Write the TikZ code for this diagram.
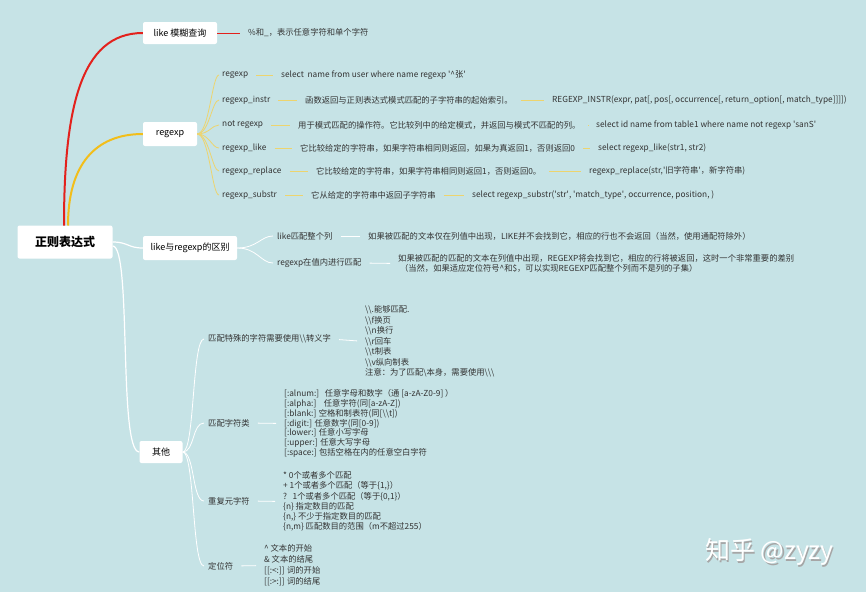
\documentclass[tikz,border=0pt]{standalone}
\usepackage{fontspec}
\setmainfont{Noto Sans CJK SC}
\definecolor{bg}{HTML}{C6E3E6}
\definecolor{redl}{HTML}{E3211C}
\definecolor{orl}{HTML}{F2BE1A}
\definecolor{yel}{HTML}{EDD46E}
\definecolor{txt}{HTML}{333333}
\newcommand{\q}{\textquotesingle}
\tikzset{
  topic/.style={fill=white, rounded corners=2pt, inner sep=0pt, text=black, font=\fontsize{9}{11}\selectfont},
  leaf/.style={anchor=west, inner sep=0pt, text=txt, font=\fontsize{8.3}{9}\selectfont},
  blk/.style={anchor=west, inner sep=0pt, text=txt, align=left},
  yline/.style={draw=yel, line width=0.8pt},
  wline/.style={draw=white, line width=0.8pt},
  link/.style={shorten <=8pt, shorten >=8pt}
}
\begin{document}
\begin{tikzpicture}[x=1pt,y=-1pt]
\fill[bg] (0,0) rectangle (866,592);
\useasboundingbox (0,0) rectangle (866,592);

% main topics
\node[topic, font=\fontsize{12}{14}\selectfont\bfseries, minimum width=95pt, minimum height=33pt] (root) at (65,242) {正则表达式};
\node[topic, minimum width=74pt, minimum height=22pt] (like) at (180,33) {like 模糊查询};
\node[topic, minimum width=54pt, minimum height=24pt] (regexp) at (170,134) {regexp};
\node[topic, minimum width=94pt, minimum height=24pt] (diff) at (190,248) {like与regexp的区别};
\node[topic, minimum width=43pt, minimum height=22pt] (other) at (161,452) {其他};

% main branches
\draw[redl, line width=2pt] (64,225.5) .. controls (64,110) and (80,33) .. (like.west);
\draw[orl, line width=2pt] (68,225.5) .. controls (68,165) and (95,134) .. (regexp.west);
\draw[wline, line width=1.2pt] (root.east) .. controls (128,242) and (128,248) .. (diff.west);
\draw[wline, line width=1.2pt] ([yshift=-4pt]root.east) .. controls (132,246) and (118,452) .. (other.west);

% like
\node[leaf] (l1) at (248,33) {\%和\_，表示任意字符和单个字符};
\draw[redl, line width=0.8pt] (like.east) -- ([xshift=-8pt]l1.west);

% regexp children
\node[leaf] (r1) at (222,75) {regexp};
\node[leaf] (r1a) at (281,75) {select\ \ name from user where name regexp \q\textasciicircum 张\q};
\node[leaf] (r2) at (222,100) {regexp\_instr};
\node[leaf] (r2a) at (305,100) {函数返回与正则表达式模式匹配的子字符串的起始索引。};
\node[leaf] (r2b) at (552,100) {REGEXP\_INSTR(expr, pat[, pos[, occurrence[, return\_option[, match\_type]]]])};
\node[leaf] (r3) at (222,125) {not regexp};
\node[leaf] (r3a) at (298,125) {用于模式匹配的操作符。它比较列中的给定模式，并返回与模式不匹配的列。};
\node[leaf] (r3b) at (596,125) {select id name from table1 where name not regexp \q sanS\q};
\node[leaf] (r4) at (222,148) {regexp\_like};
\node[leaf] (r4a) at (300,148) {它比较给定的字符串，如果字符串相同则返回，如果为真返回1，否则返回0};
\node[leaf] (r4b) at (598,148) {select regexp\_like(str1, str2)};
\node[leaf] (r5) at (222,171) {regexp\_replace};
\node[leaf] (r5a) at (316,171) {它比较给定的字符串，如果字符串相同则返回1，否则返回0。};
\node[leaf] (r5b) at (589,171) {regexp\_replace(str,\q 旧字符串\q，新字符串)};
\node[leaf] (r6) at (222,195) {regexp\_substr};
\node[leaf] (r6a) at (311,195) {它从给定的字符串中返回子字符串};
\node[leaf] (r6b) at (472,195) {select regexp\_substr(\q str\q, \q match\_type\q, occurrence, position, )};

\foreach \n in {r1,r2,r3,r4,r5,r6}
  \draw[yline] (regexp.east) .. controls +(12,0) and ([xshift=-10pt]\n.west) .. ([xshift=-3pt]\n.west);
\foreach \a/\b in {r1/r1a,r2/r2a,r2a/r2b,r3/r3a,r3a/r3b,r4/r4a,r4a/r4b,r5/r5a,r5a/r5b,r6/r6a,r6a/r6b}
  \draw[yline, link] (\a.east) -- (\b.west);

% like vs regexp
\node[leaf] (d1) at (277,236) {like匹配整个列};
\node[leaf] (d1a) at (368,236) {如果被匹配的文本仅在列值中出现，LIKE并不会找到它，相应的行也不会返回（当然，使用通配符除外）};
\node[leaf] (d2) at (277,263) {regexp在值内进行匹配};
\node[blk, font=\fontsize{8.3}{10.5}\selectfont] (d2a) at (398,263.5) {如果被匹配的匹配的文本在列值中出现，REGEXP将会找到它，相应的行将被返回，这时一个非常重要的差别\\
\ （当然，如果适应定位符号\textasciicircum 和\$，可以实现REGEXP匹配整个列而不是列的子集）};
\foreach \n in {d1,d2}
  \draw[wline] (diff.east) .. controls +(20,0) and ([xshift=-16pt]\n.west) .. ([xshift=-4pt]\n.west);
\draw[wline, link] (d1.east) -- (d1a.west);
\draw[wline, link] (d2.east) -- (d2a.west);

% others
\node[leaf] (o1) at (208,339) {匹配特殊的字符需要使用\textbackslash\textbackslash 转义字};
\node[blk, font=\fontsize{8.3}{10.5}\selectfont] (o1a) at (365,341.5) {\textbackslash\textbackslash.能够匹配.\\
\textbackslash\textbackslash f换页\\
\textbackslash\textbackslash n换行\\
\textbackslash\textbackslash r回车\\
\textbackslash\textbackslash t制表\\
\textbackslash\textbackslash v纵向制表\\
注意：为了匹配\textbackslash 本身，需要使用\textbackslash\textbackslash\textbackslash};
\node[leaf] (o2) at (208,423) {匹配字符类};
\node[blk, font=\fontsize{8.3}{9.8}\selectfont] (o2a) at (284,423.5) {{[}:alnum:]\ \ \ 任意字母和数字（通 [a-zA-Z0-9] ）\\
{[}:alpha:]\ \ \ \ 任意字符(同[a-zA-Z])\\
{[}:blank:] 空格和制表符(同[\textbackslash\textbackslash t])\\
{[}:digit:] 任意数字(同[0-9])\\
{[}:lower:] 任意小写字母\\
{[}:upper:] 任意大写字母\\
{[}:space:] 包括空格在内的任意空白字符};
\node[leaf] (o3) at (208,501) {重复元字符};
\node[blk, font=\fontsize{8.3}{10.2}\selectfont] (o3a) at (283,501.5) {* 0个或者多个匹配\\
+ 1个或者多个匹配（等于\{1,\}）\\
?\ \ \ 1个或者多个匹配（等于\{0,1\}）\\
\{n\} 指定数目的匹配\\
\{n,\} 不少于指定数目的匹配\\
\{n,m\} 匹配数目的范围（m不超过255）};
\node[leaf] (o4) at (208,566) {定位符};
\node[blk, font=\fontsize{8.3}{11}\selectfont] (o4a) at (264,565.5) {\textasciicircum\ 文本的开始\\
\& 文本的结尾\\
{[}[:<:]] 词的开始\\
{[}[:>:]] 词的结尾};
\foreach \n in {o1,o2,o3,o4}
  \draw[wline] (other.east) .. controls +(12,0) and ([xshift=-16pt]\n.west) .. ([xshift=-4pt]\n.west);
\foreach \a/\b in {o1/o1a,o2/o2a,o3/o3a,o4/o4a}
  \draw[wline, link] (\a.east) -- (\b.west);

% watermark
\node[font=\fontsize{25}{28}\selectfont, text=gray!70, anchor=west, inner sep=0pt] (wms) at (706.5,553.5) {知乎 @zyzy};
\node[font=\fontsize{25}{28}\selectfont, text=white, anchor=west, inner sep=0pt] (wm) at (705,552) {知乎 @zyzy};
\end{tikzpicture}
\end{document}
